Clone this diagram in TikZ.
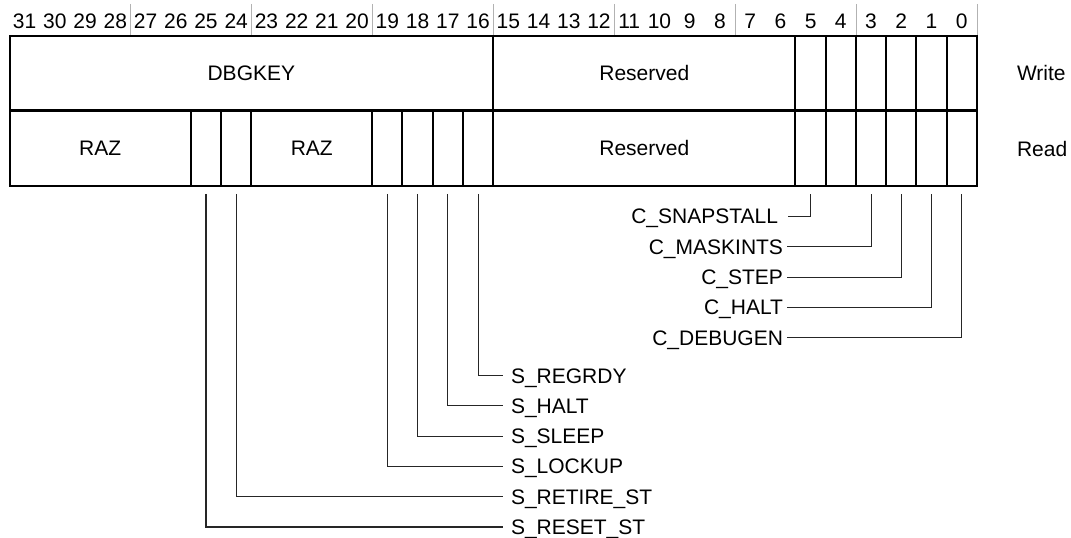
\documentclass[tikz,border=0pt]{standalone}
\usepackage{fontspec}
\setmainfont{Liberation Sans}
\tikzset{
  fieldbox/.style={draw, line width=2bp, inner sep=0pt, outer sep=0pt, minimum height=75bp,
                   anchor=north west, text height=15bp, text depth=0pt},
  lab/.style={inner sep=0pt, outer sep=0pt, text height=15bp, text depth=0pt},
  bitnum/.style={lab},
  conn/.style={draw=black!85, line width=1.1bp},
  grpsep/.style={draw=black!30, line width=0.7bp}
}
\newcommand\regfield[5]{\node[fieldbox, minimum width={(#2-#3+1)*30.23bp}] (#1) at ({bl(#2)},#4) {#5};}
\begin{document}
\begin{tikzpicture}[x=1bp, y=-1bp, font=\fontsize{21bp}{25bp}\selectfont,
  declare function={bl(\b)=9.5+(31-\b)*30.23; bc(\b)=9.5+(31.5-\b)*30.23;}]
\useasboundingbox (0,0) rectangle (1071,538);
% bit numbers
\foreach \b in {0,...,31} \node[bitnum] (n\b) at ({bc(\b)},21.5) {\b};
\foreach \k in {1,...,8} \draw[grpsep] ({9.5+\k*4*30.23},4) -- ({9.5+\k*4*30.23},36);
% write row
\regfield{dbgkey}{31}{16}{36}{DBGKEY}
\regfield{resw}{15}{6}{36}{Reserved}
\foreach \b in {5,...,0} {\regfield{w\b}{\b}{\b}{36}{}}
% read row
\regfield{razh}{31}{26}{111}{RAZ}
\regfield{r25}{25}{25}{111}{}
\regfield{r24}{24}{24}{111}{}
\regfield{razl}{23}{20}{111}{RAZ}
\foreach \b in {19,...,16} {\regfield{r\b}{\b}{\b}{111}{}}
\regfield{resr}{15}{6}{111}{Reserved}
\foreach \b in {5,...,0} {\regfield{r\b}{\b}{\b}{111}{}}
\draw[line width=3bp] (dbgkey.south west) -- (w0.south east);
% row names
\node[lab, anchor=west] (write) at (1017,73.5) {Write};
\node[lab, anchor=west] (read) at (1017,149) {Read};
% connector start points
\foreach \b in {0,1,2,3,5,16,17,18,19,24,25} \coordinate (t\b) at ([yshift=-8bp]r\b.south);
% C labels
\node[lab, anchor=east] (csnap) at (778,216.5) {C\_SNAPSTALL};
\node[lab, anchor=east] (cmask) at (783,246.8) {C\_MASKINTS};
\node[lab, anchor=east] (cstep) at (783,277.1) {C\_STEP};
\node[lab, anchor=east] (chalt) at (783,307.4) {C\_HALT};
\node[lab, anchor=east] (cdbg) at (783,337.7) {C\_DEBUGEN};
\draw[conn] ([xshift=10bp]csnap.east) -| (t5);
\draw[conn] ([xshift=4bp]cmask.east) -| (t3);
\draw[conn] ([xshift=4bp]cstep.east) -| (t2);
\draw[conn] ([xshift=4bp]chalt.east) -| (t1);
\draw[conn] ([xshift=4bp]cdbg.east) -| (t0);
% S labels
\node[lab, anchor=west] (sreg) at (511,375.5) {S\_REGRDY};
\node[lab, anchor=west] (shalt) at (511,405.8) {S\_HALT};
\node[lab, anchor=west] (ssleep) at (511,436.1) {S\_SLEEP};
\node[lab, anchor=west] (slock) at (511,466.4) {S\_LOCKUP};
\node[lab, anchor=west] (sret) at (511,496.7) {S\_RETIRE\_ST};
\node[lab, anchor=west] (sres) at (511,527) {S\_RESET\_ST};
\draw[conn] (t16) |- ([xshift=-8bp]sreg.west);
\draw[conn] (t17) |- ([xshift=-8bp]shalt.west);
\draw[conn] (t18) |- ([xshift=-8bp]ssleep.west);
\draw[conn] (t19) |- ([xshift=-8bp]slock.west);
\draw[conn] (t24) |- ([xshift=-8bp]sret.west);
\draw[conn] (t25) |- ([xshift=-8bp]sres.west);
\end{tikzpicture}
\end{document}
